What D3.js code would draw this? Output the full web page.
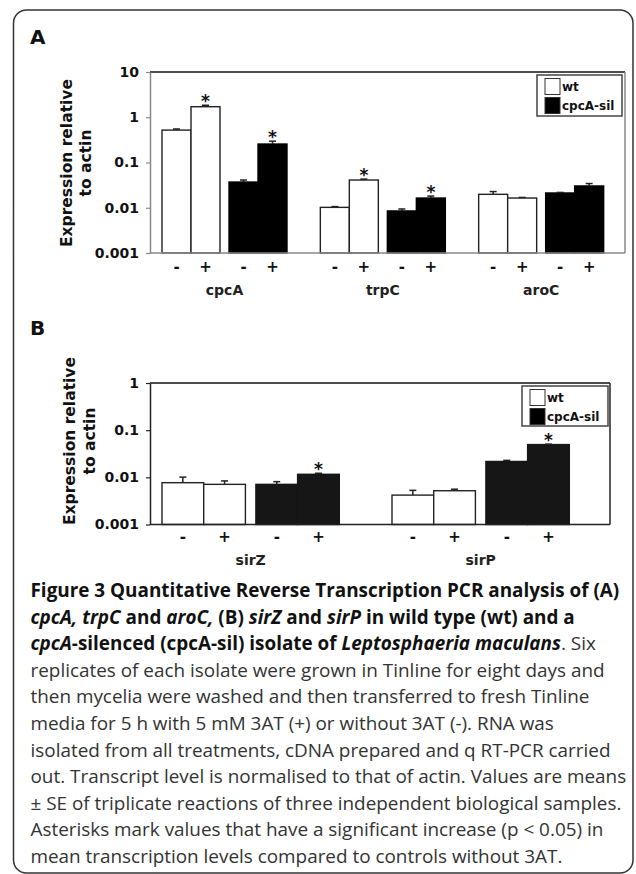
<!DOCTYPE html>
<html><head><meta charset="utf-8">
<script src="https://cdn.jsdelivr.net/npm/d3@7"></script>
<style>body{margin:0;background:#fff} svg{display:block}</style>
</head><body><svg id="c" width="636" height="874"></svg>
<script>
// ---------- data ----------
const strains = ["wt", "cpcA-sil"];
const treatments = ["-", "+"];

const aGenes = ["cpcA", "trpC", "aroC"];
const aWtMinus = [0.52, 0.0102, 0.0198];
const aWtPlus = [1.71, 0.041, 0.0164];
const aSilMinus = [0.037, 0.0085, 0.0212];
const aSilPlus = [0.256, 0.0164, 0.0303];
const aWtMinusErr = [0.03, 0.0004, 0.003];
const aWtPlusErr = [0.13, 0.002, 0.0005];
const aSilMinusErr = [0.004, 0.0009, 0.0006];
const aSilPlusErr = [0.04, 0.0017, 0.004];
const aWtPlusSig = [true, true, false];
const aSilPlusSig = [true, true, false];
const aTicks = [0.001, 0.01, 0.1, 1, 10];
const aTickLabels = ["0.001", "0.01", "0.1", "1", "10"];

const bGenes = ["sirZ", "sirP"];
const bWtMinus = [0.0077, 0.0042];
const bWtPlus = [0.0071, 0.0052];
const bSilMinus = [0.0071, 0.0217];
const bSilPlus = [0.0116, 0.0495];
const bWtMinusErr = [0.0024, 0.0011];
const bWtPlusErr = [0.0013, 0.0004];
const bSilMinusErr = [0.001, 0.0012];
const bSilPlusErr = [0.0006, 0.001];
const bWtPlusSig = [false, false];
const bSilPlusSig = [true, true];
const bTicks = [0.001, 0.01, 0.1, 1];
const bTickLabels = ["0.001", "0.01", "0.1", "1"];

const yTitle = ["Expression relative", "to actin"];

const captionLines = [
  [{t: "Figure 3 Quantitative Reverse Transcription PCR analysis of (A)", b: 1}],
  [{t: "cpcA, trpC", b: 1, i: 1}, {t: " and ", b: 1}, {t: "aroC,", b: 1, i: 1}, {t: " (B) ", b: 1},
   {t: "sirZ", b: 1, i: 1}, {t: " and ", b: 1}, {t: "sirP", b: 1, i: 1}, {t: " in wild type (wt) and a", b: 1}],
  [{t: "cpcA", b: 1, i: 1}, {t: "-silenced (cpcA-sil) isolate of ", b: 1}, {t: "Leptosphaeria maculans", b: 1, i: 1}, {t: ". Six"}],
  [{t: "replicates of each isolate were grown in Tinline for eight days and"}],
  [{t: "then mycelia were washed and then transferred to fresh Tinline"}],
  [{t: "media for 5 h with 5 mM 3AT (+) or without 3AT (-). RNA was"}],
  [{t: "isolated from all treatments, cDNA prepared and q RT-PCR carried"}],
  [{t: "out. Transcript level is normalised to that of actin. Values are means"}],
  [{t: "\u00b1 SE of triplicate reactions of three independent biological samples."}],
  [{t: "Asterisks mark values that have a significant increase (p < 0.05) in"}],
  [{t: "mean transcription levels compared to controls without 3AT."}]
];

// ---------- drawing ----------
const svg = d3.select("#c");
const CF = "'DejaVu Sans', sans-serif";

svg.append("rect").attr("x", 13.5).attr("y", 10).attr("width", 619.5).attr("height", 863)
  .attr("rx", 13).attr("fill", "none").attr("stroke", "#333").attr("stroke-width", 1.5);

function buildRecords(genes, wm, wp, sm, sp, wme, wpe, sme, spe, wps, sps) {
  const recs = [];
  genes.forEach((g, i) => {
    recs.push({gene: g, strain: strains[0], treat: treatments[0], v: wm[i], e: wme[i], sig: false});
    recs.push({gene: g, strain: strains[0], treat: treatments[1], v: wp[i], e: wpe[i], sig: wps[i]});
    recs.push({gene: g, strain: strains[1], treat: treatments[0], v: sm[i], e: sme[i], sig: false});
    recs.push({gene: g, strain: strains[1], treat: treatments[1], v: sp[i], e: spe[i], sig: sps[i]});
  });
  return recs;
}

function drawPanel(o) {
  const g = svg.append("g");
  const x0 = d3.scaleBand().domain(o.genes).range([o.left, o.right]);
  const y = d3.scaleLog().domain([o.ticks[0], o.ticks[o.ticks.length - 1]]).range([o.bottom, o.top]);
  const L = 4 * o.bw + o.gap;
  const xs = d3.scaleBand().domain(strains).range([o.off, o.off + L]).paddingInner(o.gap / (2 * o.bw + o.gap));
  const xt = d3.scaleBand().domain(treatments).range([0, xs.bandwidth()]);
  const bx = d => x0(d.gene) + xs(d.strain) + xt(d.treat);
  const w = xt.bandwidth();

  // panel letter
  g.append("text").attr("x", 30).attr("y", o.letterY).text(o.letter)
    .attr("font-family", CF).attr("font-weight", "bold").attr("font-size", 20).attr("fill", "#111");

  // bars
  g.selectAll("rect.bar").data(o.recs).join("rect").attr("class", "bar")
    .attr("x", bx).attr("y", d => y(d.v)).attr("width", w)
    .attr("height", d => y(o.ticks[0]) - y(d.v))
    .attr("fill", d => d.strain === strains[0] ? "#fff" : o.dark)
    .attr("stroke", d => d.strain === strains[0] ? "#222" : o.dark).attr("stroke-width", 1.4);

  // error bars
  const eb = g.selectAll("g.err").data(o.recs).join("g").attr("class", "err");
  eb.append("line").attr("x1", d => bx(d) + w / 2).attr("x2", d => bx(d) + w / 2)
    .attr("y1", d => y(d.v)).attr("y2", d => y(d.v + d.e)).attr("stroke", "#222").attr("stroke-width", 1.5);
  eb.append("line").attr("x1", d => bx(d) + w / 2 - 3.5).attr("x2", d => bx(d) + w / 2 + 3.5)
    .attr("y1", d => y(d.v + d.e)).attr("y2", d => y(d.v + d.e)).attr("stroke", "#222").attr("stroke-width", 1.5);

  // asterisks
  g.selectAll("text.sig").data(o.recs.filter(d => d.sig)).join("text").attr("class", "sig")
    .attr("x", d => bx(d) + w / 2).attr("y", d => y(d.v + d.e) + 2).attr("text-anchor", "middle")
    .attr("font-family", CF).attr("font-weight", "bold").attr("font-size", 17).attr("fill", "#111").text("*");

  // frame
  g.append("line").attr("x1", o.left).attr("x2", o.right).attr("y1", o.top).attr("y2", o.top)
    .attr("stroke", "#111").attr("stroke-width", 1.6);
  g.append("line").attr("x1", o.right).attr("x2", o.right).attr("y1", o.top).attr("y2", o.bottom)
    .attr("stroke", o.frame).attr("stroke-width", 1.5);
  g.append("line").attr("x1", o.left).attr("x2", o.right).attr("y1", o.bottom).attr("y2", o.bottom)
    .attr("stroke", o.frame).attr("stroke-width", 1.5);

  // y axis
  const ax = g.append("g").attr("transform", `translate(${o.left},0)`)
    .call(d3.axisLeft(y).tickValues(o.ticks).tickFormat((d, i) => o.tickLabels[i]).tickSize(4).tickSizeOuter(0).tickPadding(7));
  ax.select(".domain").attr("stroke", o.frame).attr("stroke-width", 1.5);
  ax.selectAll(".tick line").attr("stroke", o.frame).attr("stroke-width", 1.2);
  ax.selectAll(".tick text").attr("font-family", CF).attr("font-weight", "bold").attr("font-size", 14).attr("fill", "#111");

  // y title
  yTitle.forEach((t, i) => {
    g.append("text").attr("transform", `translate(${o.titleX[i]},${o.titleY}) rotate(-90)`)
      .attr("text-anchor", "middle").attr("font-family", CF).attr("font-weight", "bold")
      .attr("font-size", 15.5).attr("fill", "#111").text(t);
  });

  // treatment labels
  g.selectAll("text.tr").data(o.recs).join("text").attr("class", "tr")
    .attr("x", d => bx(d) + w / 2).attr("y", o.trY).attr("text-anchor", "middle")
    .attr("font-family", CF).attr("font-weight", "bold").attr("font-size", 15).attr("fill", "#111")
    .text(d => d.treat);

  // gene labels
  g.selectAll("text.gene").data(o.genes).join("text").attr("class", "gene")
    .attr("x", d => x0(d) + o.off + L / 2).attr("y", o.geneY).attr("text-anchor", "middle")
    .attr("font-family", CF).attr("font-weight", "bold").attr("font-size", 14).attr("fill", "#222")
    .text(d => d);

  // legend
  const lg = g.append("g").attr("transform", `translate(${o.legX},${o.legY})`);
  lg.append("rect").attr("width", o.legW).attr("height", o.legH).attr("fill", "#fff")
    .attr("stroke", "#444").attr("stroke-width", 1.5);
  strains.forEach((s, i) => {
    lg.append("rect").attr("x", 8).attr("y", 3.5 + i * 19).attr("width", 15).attr("height", 16)
      .attr("fill", i === 0 ? "#fff" : "#000").attr("stroke", "#333").attr("stroke-width", 1);
    lg.append("text").attr("x", 25).attr("y", 16 + i * 19).text(s)
      .attr("font-family", CF).attr("font-weight", "bold").attr("font-size", 12).attr("fill", "#111");
  });
}

drawPanel({
  letter: "A", letterY: 44, genes: aGenes,
  recs: buildRecords(aGenes, aWtMinus, aWtPlus, aSilMinus, aSilPlus, aWtMinusErr, aWtPlusErr, aSilMinusErr, aSilPlusErr, aWtPlusSig, aSilPlusSig),
  ticks: aTicks, tickLabels: aTickLabels,
  left: 150, right: 625, top: 72, bottom: 253,
  off: 12, bw: 29, gap: 9, dark: "#000", frame: "#888",
  titleX: [72, 91], titleY: 163, trY: 272, geneY: 295,
  legX: 537, legY: 75, legW: 85, legH: 41
});

drawPanel({
  letter: "B", letterY: 335, genes: bGenes,
  recs: buildRecords(bGenes, bWtMinus, bWtPlus, bSilMinus, bSilPlus, bWtMinusErr, bWtPlusErr, bSilMinusErr, bSilPlusErr, bWtPlusSig, bSilPlusSig),
  ticks: bTicks, tickLabels: bTickLabels,
  left: 150, right: 610, top: 383, bottom: 524.5,
  off: 12, bw: 41.7, gap: 10.5, dark: "#161616", frame: "#222",
  titleX: [75, 95], titleY: 441, trY: 542, geneY: 565,
  legX: 522, legY: 386, legW: 86, legH: 40
});

// caption
captionLines.forEach((line, li) => {
  const t = svg.append("text").attr("x", 30.5).attr("y", 597 + li * 26.6)
    .attr("font-family", "'Open Sans', sans-serif").attr("font-size", 18.9);
  line.forEach(s => {
    t.append("tspan").text(s.t)
      .attr("font-weight", s.b ? "bold" : "normal")
      .attr("font-style", s.i ? "italic" : "normal")
      .attr("fill", s.b ? "#111" : "#333");
  });
});
</script></body></html>
